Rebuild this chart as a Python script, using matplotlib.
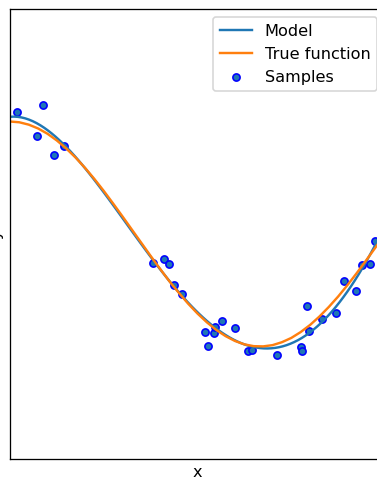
import numpy as np
import matplotlib
matplotlib.use("Agg")
import matplotlib.pyplot as plt

# Sample points
sample_x = [0.019, 0.073, 0.087, 0.118, 0.144, 0.381, 0.411, 0.423, 0.437, 0.459,
            0.519, 0.528, 0.544, 0.547, 0.565, 0.600, 0.635, 0.645, 0.713, 0.775,
            0.778, 0.791, 0.797, 0.831, 0.869, 0.891, 0.922, 0.939, 0.960, 0.973]
sample_y = [1.084, 0.871, 1.149, 0.702, 0.785, -0.255, -0.222, -0.269, -0.453, -0.536,
            -0.868, -0.996, -0.883, -0.827, -0.773, -0.838, -1.036, -1.031, -1.076, -1.002,
            -1.040, -0.640, -0.860, -0.758, -0.705, -0.415, -0.504, -0.276, -0.267, -0.060]

# True function curve values
true_x = [0.000, 0.025, 0.050, 0.075, 0.100, 0.125, 0.150, 0.175, 0.200, 0.225,
          0.250, 0.275, 0.300, 0.325, 0.350, 0.375, 0.400, 0.425, 0.450, 0.475,
          0.500, 0.525, 0.550, 0.575, 0.600, 0.625, 0.650, 0.675, 0.700, 0.725,
          0.750, 0.775, 0.800, 0.825, 0.850, 0.875, 0.900, 0.925, 0.950, 0.975, 1.000]
true_y = [1.000, 0.993, 0.972, 0.938, 0.891, 0.831, 0.760, 0.679, 0.588, 0.489,
          0.383, 0.271, 0.156, 0.039, -0.078, -0.195, -0.309, -0.420, -0.522, -0.619,
          -0.707, -0.785, -0.853, -0.908, -0.951, -0.981, -0.997, -0.999, -0.988, -0.962,
          -0.924, -0.872, -0.809, -0.734, -0.649, -0.556, -0.454, -0.346, -0.233, -0.118, 0.000]

degree = 4

sx = np.array(sample_x)
sy = np.array(sample_y)
coef = np.polyfit(sx, sy, degree)
model_x = np.linspace(0, 1, 100)
model_y = np.polyval(coef, model_x)

DPI = 116
fig = plt.figure(figsize=(377 / DPI, 480 / DPI), dpi=DPI)
ax = fig.add_axes([10 / 377, 21 / 480, 375 / 377, 450 / 480])
ax.plot(model_x, model_y, label="Model")
ax.plot(true_x, true_y, label="True function")
ax.scatter(sx, sy, edgecolor="b", s=20, label="Samples")
ax.set_xlabel("x")
ax.set_ylabel("y")
ax.set_xlim((0, 1))
ax.set_ylim((-2, 2))
ax.set_xticks(())
ax.set_yticks(())
ax.legend(loc="best")
fig.savefig("out.png", dpi=DPI)
